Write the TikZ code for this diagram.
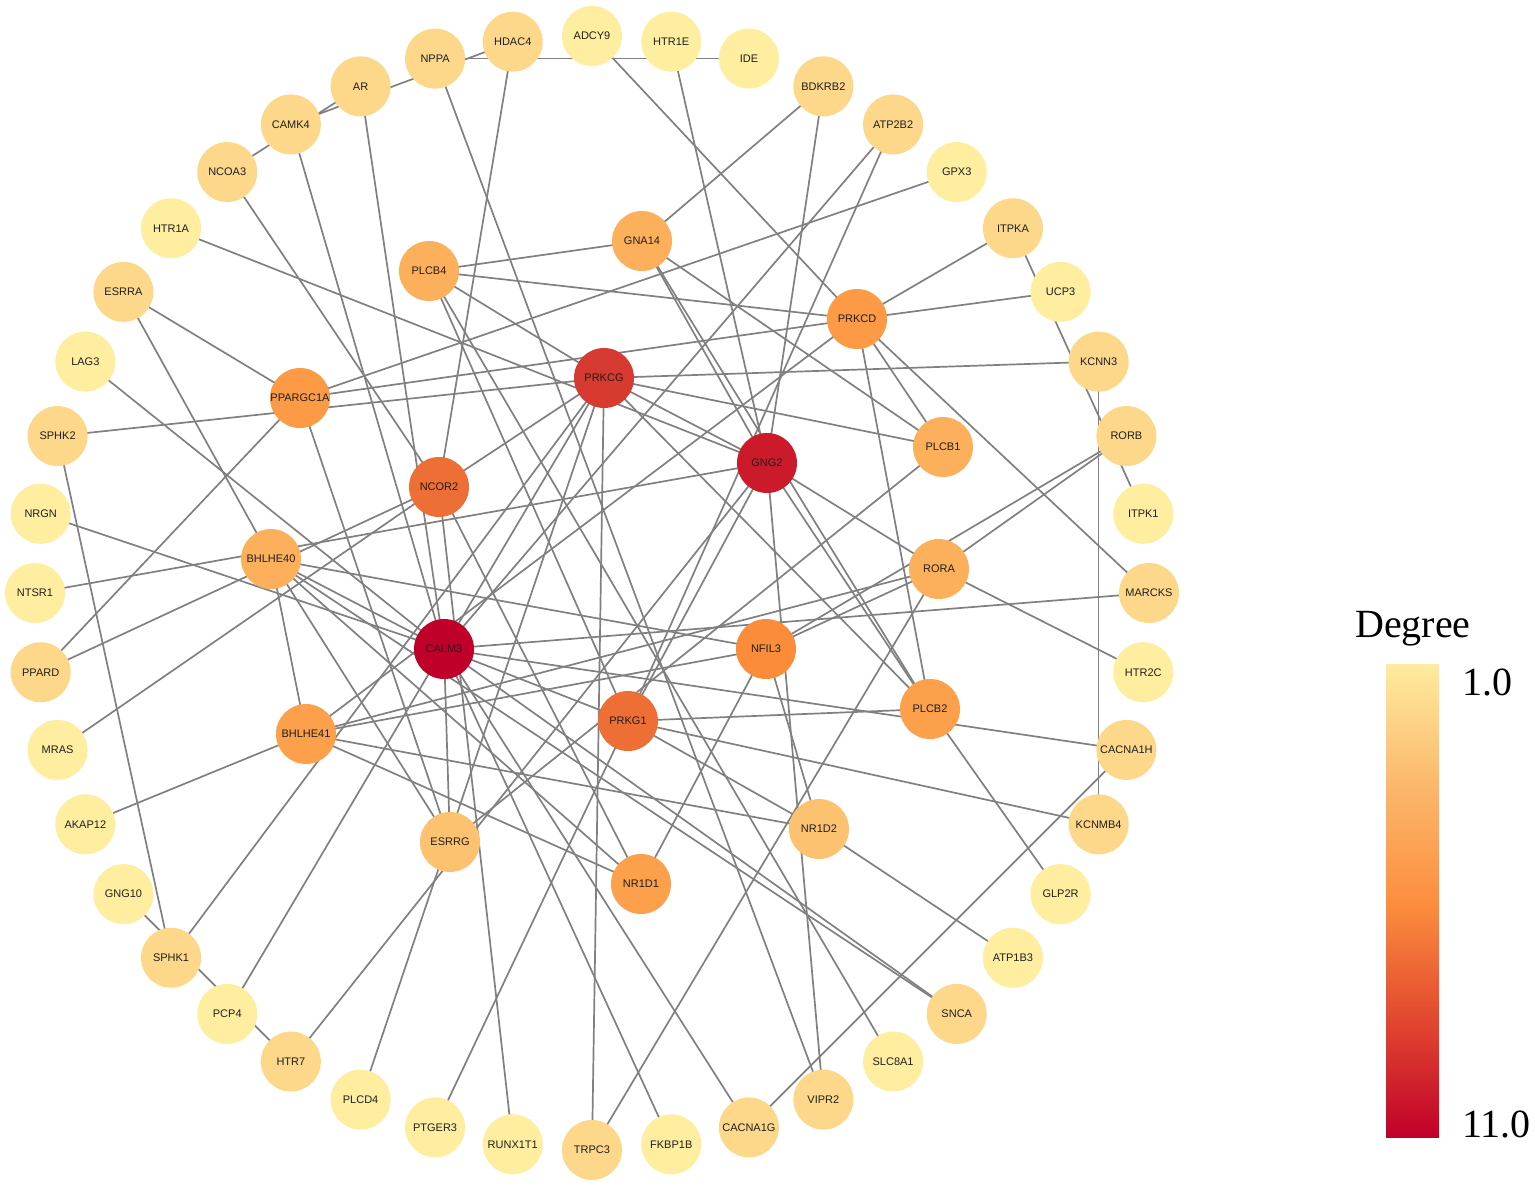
\documentclass[tikz,border=0pt]{standalone}
\usepackage{fontspec}
\setmainfont{Liberation Sans}
\newfontfamily\legfont{Liberation Serif}
\usetikzlibrary{backgrounds}
\definecolor{cA}{HTML}{FFEDA0}
\definecolor{cB}{HTML}{FDD88A}
\definecolor{cC}{HTML}{FDC26F}
\definecolor{cD}{HTML}{FDB05C}
\definecolor{cE}{HTML}{FCA04C}
\definecolor{cF}{HTML}{FC9A45}
\definecolor{cG}{HTML}{FB8C3A}
\definecolor{cH}{HTML}{EE6F35}
\definecolor{cI}{HTML}{D73A30}
\definecolor{cJ}{HTML}{CB1B2B}
\definecolor{cK}{HTML}{BF0028}
\definecolor{edgegray}{HTML}{808080}
\definecolor{barA}{HTML}{FFEB9F}
\definecolor{barB}{HTML}{FBBA6E}
\definecolor{barC}{HTML}{FC8E3E}
\definecolor{barD}{HTML}{E2472F}
\definecolor{barE}{HTML}{C0002A}
\pgfdeclareverticalshading{degbar}{100bp}{color(0bp)=(barE); color(25bp)=(barE); color(37.25bp)=(barD); color(49.75bp)=(barC); color(62.75bp)=(barB); color(75bp)=(barA); color(100bp)=(barA)}
\begin{document}
\begin{tikzpicture}[x=1pt,y=-1pt,
  gn/.style={circle, minimum size=60pt, inner sep=0pt, font=\fontsize{11}{12}\selectfont, text=black!88},
  edge/.style={draw=edgegray, line width=1.7pt}]
\useasboundingbox (0,0) rectangle (1535,1187);
% outer ring
\foreach \n/\c [count=\i from 0] in {ADCY9/cA,HTR1E/cA,IDE/cA,BDKRB2/cB,ATP2B2/cB,GPX3/cA,ITPKA/cB,UCP3/cA,KCNN3/cB,RORB/cB,ITPK1/cA,MARCKS/cB,HTR2C/cA,CACNA1H/cB,KCNMB4/cB,GLP2R/cA,ATP1B3/cA,SNCA/cB,SLC8A1/cA,VIPR2/cB,CACNA1G/cB,FKBP1B/cA,TRPC3/cB,RUNX1T1/cA,PTGER3/cA,PLCD4/cA,HTR7/cB,PCP4/cA,SPHK1/cB,GNG10/cA,AKAP12/cA,MRAS/cA,PPARD/cB,NTSR1/cA,NRGN/cA,SPHK2/cB,LAG3/cA,ESRRA/cB,HTR1A/cA,NCOA3/cB,CAMK4/cB,AR/cB,NPPA/cB,HDAC4/cB}
  \node[gn, fill=\c] (\n) at ({592+557*cos(90-360/44*\i)},{593-557*sin(90-360/44*\i)}) {\n};
% inner nodes
\foreach \n/\c/\x/\y in {GNA14/cD/642/241, PLCB4/cD/429/271, PRKCD/cF/857/319, PRKCG/cI/604/378, PPARGC1A/cF/300/398, GNG2/cJ/767/463, PLCB1/cD/943/447, NCOR2/cH/439/487, BHLHE40/cD/271/559, RORA/cD/939/569, CALM3/cK/444/649, NFIL3/cG/766/649, PLCB2/cE/930/709, PRKG1/cH/628/721, BHLHE41/cE/306/734, ESRRG/cC/450/842, NR1D2/cC/819/829, NR1D1/cE/641/884}
  \node[gn, fill=\c] (\n) at (\x,\y) {\n};
% edges
\begin{pgfonlayer}{background}
\foreach \a/\b in {NPPA/IDE, CAMK4/HDAC4, NCOA3/AR, NCOA3/NCOR2, CAMK4/CALM3, AR/CALM3, HDAC4/NCOR2, NPPA/VIPR2,
  ADCY9/PRKCD, HTR1E/GNG2, BDKRB2/GNA14, BDKRB2/GNG2, ATP2B2/CALM3, ATP2B2/PRKG1, GPX3/PPARGC1A,
  ITPKA/PRKCD, ITPKA/ITPK1, UCP3/PRKCD, KCNN3/PRKCG, KCNN3/KCNMB4, RORB/RORA, RORB/NFIL3,
  MARCKS/CALM3, MARCKS/PRKCD, HTR2C/RORA, CACNA1H/CALM3, CACNA1H/CACNA1G, KCNMB4/PRKG1,
  GLP2R/PLCB2, ATP1B3/NR1D2, SNCA/CALM3, SNCA/BHLHE40, SLC8A1/PLCB4, VIPR2/GNG2, CACNA1G/CALM3,
  FKBP1B/CALM3, TRPC3/PRKCG, TRPC3/RORA, RUNX1T1/NCOR2, PTGER3/PRKG1, PLCD4/PRKCG, HTR7/GNG2,
  PCP4/PRKCG, GNG10/HTR7, SPHK1/SPHK2, SPHK1/PRKCG, AKAP12/BHLHE41, MRAS/NCOR2, PPARD/PPARGC1A,
  PPARD/NCOR2, NTSR1/GNG2, NRGN/CALM3, SPHK2/PRKCG, LAG3/CALM3, ESRRA/PPARGC1A, ESRRA/BHLHE40,
  HTR1A/GNG2,
  PRKCG/NCOR2, PRKCG/GNG2, PRKCG/PLCB1, PRKCG/PLCB4, PRKCG/PLCB2, PPARGC1A/PRKCD, PPARGC1A/ESRRG,
  GNA14/PLCB4, GNA14/PLCB1, GNA14/GNG2, GNA14/PLCB2, PLCB4/PRKCD, PLCB4/PRKG1, PRKCD/PLCB1,
  PRKCD/PLCB2, PRKCD/BHLHE41, GNG2/RORA, GNG2/PLCB2, GNG2/PRKG1, PLCB1/ESRRG,
  BHLHE40/BHLHE41, BHLHE40/CALM3, BHLHE40/NFIL3, BHLHE40/NR1D1, BHLHE40/ESRRG,
  BHLHE41/NFIL3, BHLHE41/RORA, BHLHE41/NR1D2, BHLHE41/NR1D1, CALM3/ESRRG, CALM3/PRKG1,
  NCOR2/NR1D1, NFIL3/RORA, NFIL3/NR1D2, NFIL3/NR1D1, PRKG1/PLCB2, PRKG1/NR1D2}
  \draw[edge] (\a.center) -- (\b.center);
\end{pgfonlayer}
% legend
\node[font=\legfont\fontsize{40}{40}\selectfont, anchor=base] (degtitle) at (1413,637) {Degree};
\shade[shading=degbar] (1386,664) rectangle (1439,1137);
\node[font=\legfont\fontsize{40}{40}\selectfont, anchor=base west, inner sep=0pt] (lowlab) at (1462,695) {1.0};
\node[font=\legfont\fontsize{40}{40}\selectfont, anchor=base west, inner sep=0pt] (highlab) at (1462,1137) {11.0};
\end{tikzpicture}
\end{document}
